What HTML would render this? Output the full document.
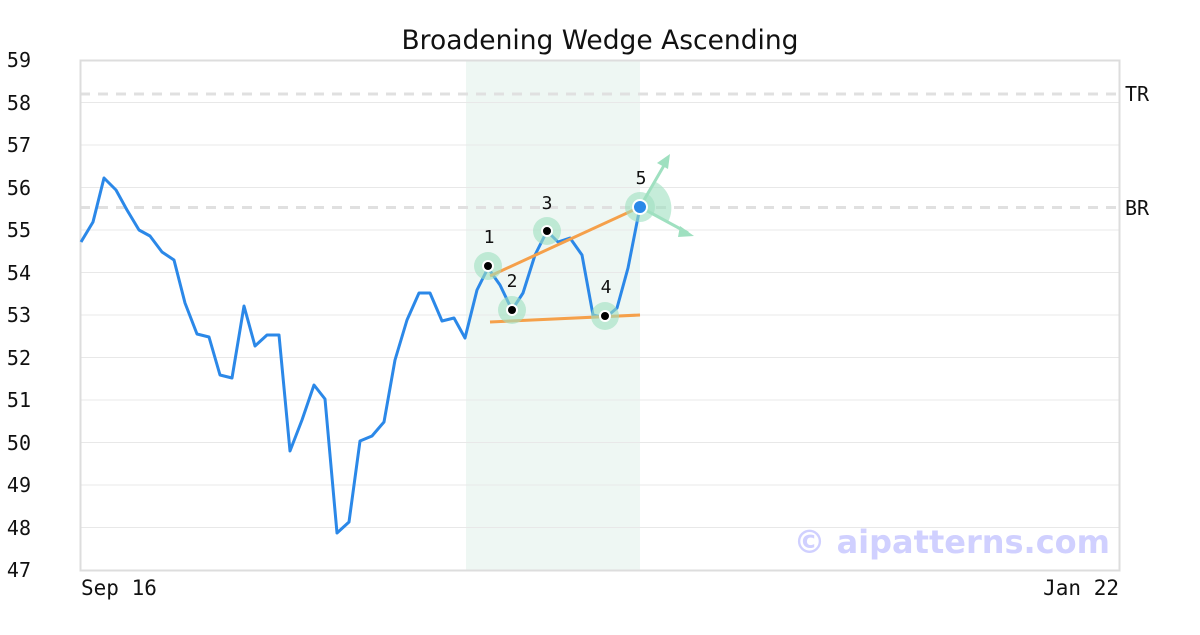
<!DOCTYPE html>
<html><head><meta charset="utf-8"><style>
body{margin:0;background:#fff;}
svg text{font-family:"DejaVu Sans Mono","Liberation Mono",monospace;}
</style></head><body>
<svg width="1200" height="630" viewBox="0 0 1200 630" xmlns="http://www.w3.org/2000/svg">
<rect width="1200" height="630" fill="#fff"/>
<text x="600" y="49" text-anchor="middle" font-size="26.5" style="font-family:'DejaVu Sans','Liberation Sans',sans-serif" fill="#111">Broadening Wedge Ascending</text>
<rect x="466" y="61" width="174" height="509" fill="#eef7f3"/>
<g stroke="#e8e8e8" stroke-width="1">
<line x1="80" x2="1120" y1="102.5" y2="102.5"/><line x1="80" x2="1120" y1="145" y2="145"/>
<line x1="80" x2="1120" y1="187.5" y2="187.5"/><line x1="80" x2="1120" y1="230" y2="230"/>
<line x1="80" x2="1120" y1="272.5" y2="272.5"/><line x1="80" x2="1120" y1="315" y2="315"/>
<line x1="80" x2="1120" y1="357.5" y2="357.5"/><line x1="80" x2="1120" y1="400" y2="400"/>
<line x1="80" x2="1120" y1="442.5" y2="442.5"/><line x1="80" x2="1120" y1="485" y2="485"/>
<line x1="80" x2="1120" y1="527.5" y2="527.5"/>
</g>
<g stroke="#e0e0e0" stroke-width="3" stroke-dasharray="10,8">
<line x1="80" x2="1120" y1="94" y2="94"/><line x1="80" x2="1120" y1="207.5" y2="207.5"/>
</g>
<rect x="80.5" y="60.5" width="1039" height="510" fill="none" stroke="#ddd" stroke-width="2"/>
<g font-size="20" fill="#111">
<text x="1125" y="101">TR</text><text x="1125" y="215">BR</text>
</g>
<g font-size="20" fill="#111" text-anchor="end">
<text x="31" y="67">59</text><text x="31" y="110">58</text><text x="31" y="152">57</text>
<text x="31" y="195">56</text><text x="31" y="237">55</text><text x="31" y="280">54</text>
<text x="31" y="322">53</text><text x="31" y="365">52</text><text x="31" y="407">51</text>
<text x="31" y="450">50</text><text x="31" y="492">49</text><text x="31" y="535">48</text>
<text x="31" y="577">47</text>
</g>
<text x="81" y="595" font-size="21" fill="#111">Sep 16</text>
<text x="1119" y="595" font-size="21" fill="#111" text-anchor="end">Jan 22</text>
<text x="1110" y="553" font-size="32" font-weight="bold" fill="#d0d0ff" text-anchor="end" style="font-family:'DejaVu Sans','Liberation Sans',sans-serif">© aipatterns.com</text>
<polyline fill="none" stroke="#2b88e8" stroke-width="3" stroke-linejoin="round" points="81,242 93,222 104,178 116,190 127,210 139,230 150,236 162,252 174,260 185,303 197,334 209,337 220,375 232,378 244,306 255,346 267,335 279,335 290,451 302,420 314,385 325,399 337,533 349,522 360,441 372,436 384,422 395,360 407,320 419,293 430,293 442,321 454,318 465,338 477,290 488,268 500,285 512,310 523,293 535,255 547,231 558,242 570,238 582,255 593,315 605,318 617,308 628,268 640,207"/>
<g stroke="#f5a04a" stroke-width="3">
<line x1="490" y1="276" x2="640" y2="207"/><line x1="490" y1="322" x2="640" y2="315"/>
</g>
<g fill="#9fe0c0" opacity="0.6">
<circle cx="488" cy="266" r="14"/><circle cx="512" cy="310" r="14"/><circle cx="547" cy="231" r="14"/><circle cx="605" cy="316" r="14"/><circle cx="640" cy="207" r="15"/>
</g>
<path d="M640,207 L656,182 A30,30 0 0 1 668,222 Z" fill="#9fe0c0" opacity="0.6"/>
<g stroke="#9fe0c0" stroke-width="3">
<line x1="640" y1="207" x2="666" y2="162"/><line x1="640" y1="207" x2="688" y2="233"/>
</g>
<polygon points="670,154 657,163 668,169" fill="#9fe0c0"/>
<polygon points="694,236 680,226 678,237" fill="#9fe0c0"/>
<g fill="#000" stroke="#fff" stroke-width="2">
<circle cx="488" cy="266" r="5"/><circle cx="512" cy="310" r="5"/><circle cx="547" cy="231" r="5"/><circle cx="605" cy="316" r="5"/>
</g>
<circle cx="640" cy="207" r="7" fill="#2b88e8" stroke="#fff" stroke-width="2"/>
<g font-size="18" fill="#111" text-anchor="middle">
<text x="489" y="243">1</text><text x="512" y="287">2</text><text x="547" y="209">3</text><text x="606" y="293">4</text><text x="641" y="184">5</text>
</g>
</svg>
</body></html>
